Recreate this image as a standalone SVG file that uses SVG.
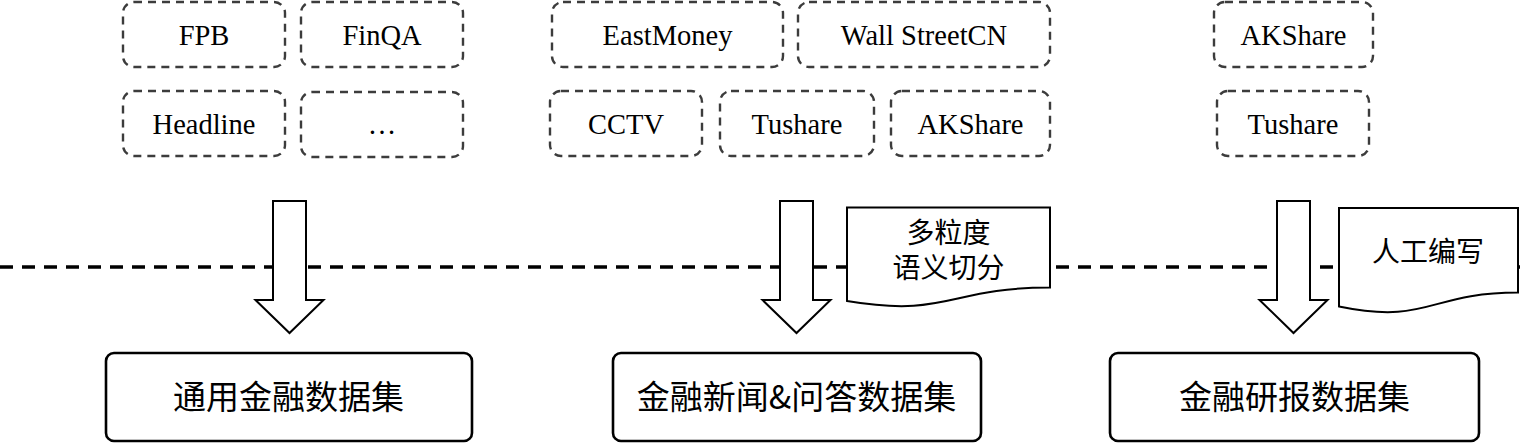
<svg xmlns="http://www.w3.org/2000/svg" width="1520" height="443" viewBox="0 0 1520 443">
<style>
.src{fill:#fff;stroke:#3c3c3c;stroke-width:2.4;stroke-dasharray:8 6}
.st{font-family:"Liberation Serif","Times New Roman",serif;font-size:28.5px;fill:#000;text-anchor:middle}
.ds{fill:#fff;stroke:#000;stroke-width:2.6}
.dt{font-family:"Noto Sans CJK SC","Noto Sans",sans-serif;font-size:33px;fill:#000;text-anchor:middle}
.doc{fill:#fff;stroke:#000;stroke-width:2}
.nt{font-family:"Noto Sans CJK SC","Noto Sans",sans-serif;font-size:28px;fill:#000;text-anchor:middle}
.arr{fill:#fff;stroke:#000;stroke-width:2;stroke-linejoin:miter}
</style>
<rect width="1520" height="443" fill="#fff"/>
<g id="divider">
<line x1="0" y1="267" x2="1520" y2="267" stroke="#000" stroke-width="3.5" stroke-dasharray="13 9"/>
</g>
<g id="src-fpb"><rect class="src" x="123" y="2" width="162" height="65" rx="11"/><text class="st" x="204" y="45">FPB</text></g>
<g id="src-finqa"><rect class="src" x="301" y="2" width="162" height="65" rx="11"/><text class="st" x="382" y="45">FinQA</text></g>
<g id="src-headline"><rect class="src" x="123" y="91" width="162" height="65" rx="11"/><text class="st" x="204" y="134">Headline</text></g>
<g id="src-more"><rect class="src" x="301" y="92" width="162" height="65" rx="11"/><text class="st" x="382" y="134">…</text></g>
<g id="src-eastmoney"><rect class="src" x="552" y="2" width="231" height="65" rx="11"/><text class="st" x="667.5" y="45">EastMoney</text></g>
<g id="src-wallstreetcn"><rect class="src" x="798" y="2" width="252" height="65" rx="11"/><text class="st" x="924" y="45">Wall StreetCN</text></g>
<g id="src-cctv"><rect class="src" x="550" y="91" width="152" height="65" rx="11"/><text class="st" x="626" y="134">CCTV</text></g>
<g id="src-tushare-mid"><rect class="src" x="720" y="91" width="154" height="65" rx="11"/><text class="st" x="797" y="134">Tushare</text></g>
<g id="src-akshare-mid"><rect class="src" x="891" y="91" width="159" height="65" rx="11"/><text class="st" x="970.5" y="134">AKShare</text></g>
<g id="src-akshare-right"><rect class="src" x="1214" y="2" width="159" height="65" rx="11"/><text class="st" x="1293.5" y="45">AKShare</text></g>
<g id="src-tushare-right"><rect class="src" x="1217" y="91" width="152" height="65" rx="11"/><text class="st" x="1293" y="134">Tushare</text></g>
<g id="connectors">
<path class="arr" d="M273,201 H306 V300 H323.5 L289.5,333 L255.5,300 H273 Z"/>
<path class="arr" d="M780,201 H813 V300 H830.5 L796.5,333 L762.5,300 H780 Z"/>
<path class="arr" d="M1277,201 H1310 V300 H1327.5 L1293.5,333 L1259.5,300 H1277 Z"/>
</g>
<g id="note-segmentation">
<path class="doc" d="M847,207.5 H1050 V287.5 C948.5,287.5 948.5,318 847,301 Z"/>
<text class="nt"><tspan x="948.5" y="242.5">多粒度</tspan><tspan x="948.5" y="277.5">语义切分</tspan></text>
</g>
<g id="note-manual">
<path class="doc" d="M1339,208 H1518 V292.5 C1428.5,292.5 1428.5,325 1339,306.5 Z"/>
<text class="nt" x="1428" y="262">人工编写</text>
</g>
<g id="ds-general"><rect class="ds" x="106" y="353" width="366" height="88" rx="8"/><text class="dt" x="288.5" y="409">通用金融数据集</text></g>
<g id="ds-news-qa"><rect class="ds" x="613" y="353" width="368" height="88" rx="8"/><text class="dt" x="796.5" y="409">金融新闻&amp;问答数据集</text></g>
<g id="ds-research"><rect class="ds" x="1110" y="353" width="369" height="88" rx="8"/><text class="dt" x="1294.5" y="409">金融研报数据集</text></g>
</svg>
